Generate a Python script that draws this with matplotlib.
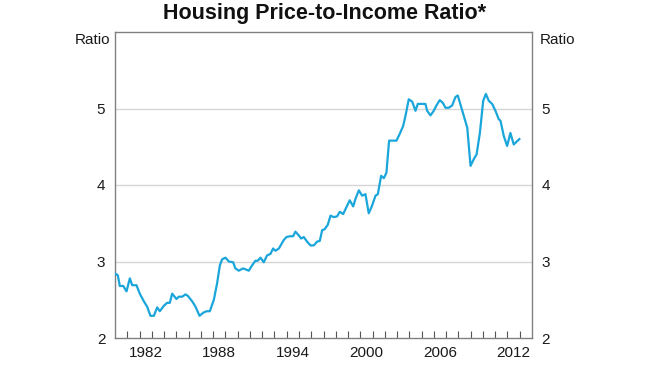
import matplotlib
matplotlib.use("Agg")
import matplotlib.pyplot as plt

plt.rcParams['font.family'] = ['Liberation Sans', 'DejaVu Sans']

# Data (decimal year, ratio)
years = [1980.04, 1980.23, 1980.39, 1980.67, 1980.94, 1981.21, 1981.40, 1981.75,
         1982.02, 1982.35, 1982.62, 1982.89, 1983.17, 1983.44, 1983.65, 1983.98,
         1984.25, 1984.47, 1984.66, 1985.01, 1985.20, 1985.48, 1985.75, 1985.94,
         1986.29, 1986.56, 1986.89, 1987.19, 1987.46, 1987.73, 1988.06, 1988.33,
         1988.55, 1988.74, 1989.01, 1989.28, 1989.63, 1989.82, 1990.09, 1990.45,
         1990.77, 1990.91, 1991.18, 1991.45, 1991.64, 1991.86, 1992.13, 1992.40,
         1992.68, 1992.89, 1993.08, 1993.36, 1993.76, 1993.98, 1994.25, 1994.52,
         1994.71, 1994.99, 1995.18, 1995.39, 1995.66, 1995.94, 1996.21, 1996.48,
         1996.70, 1996.89, 1997.08, 1997.35, 1997.57, 1997.84, 1998.11, 1998.33,
         1998.60, 1998.87, 1999.14, 1999.42, 1999.61, 1999.88, 2000.15, 2000.42,
         2000.69, 2000.96, 2001.24, 2001.43, 2001.70, 2001.92, 2002.13, 2002.35,
         2002.73, 2002.95, 2003.22, 2003.49, 2003.68, 2003.95, 2004.23, 2004.50,
         2004.69, 2005.04, 2005.31, 2005.45, 2005.72, 2005.99, 2006.21, 2006.48,
         2006.75, 2006.94, 2007.22, 2007.49, 2007.76, 2007.95, 2008.17, 2008.44,
         2008.72, 2008.99, 2009.26, 2009.48, 2009.75, 2010.02, 2010.24, 2010.48,
         2010.75, 2011.02, 2011.29, 2011.43, 2011.70, 2011.97, 2012.24, 2012.51,
         2012.97]
ratio = [2.84, 2.82, 2.68, 2.68, 2.61, 2.78, 2.69, 2.69,
         2.58, 2.48, 2.41, 2.29, 2.29, 2.40, 2.35, 2.42,
         2.46, 2.46, 2.58, 2.51, 2.54, 2.54, 2.57, 2.55,
         2.48, 2.41, 2.29, 2.33, 2.35, 2.35, 2.50, 2.72,
         2.95, 3.03, 3.05, 3.00, 2.99, 2.91, 2.88, 2.91,
         2.89, 2.88, 2.95, 3.01, 3.01, 3.05, 2.99, 3.08,
         3.10, 3.17, 3.14, 3.17, 3.28, 3.32, 3.33, 3.33,
         3.39, 3.34, 3.30, 3.32, 3.26, 3.21, 3.21, 3.26,
         3.27, 3.41, 3.42, 3.48, 3.60, 3.58, 3.59, 3.65,
         3.62, 3.71, 3.80, 3.72, 3.82, 3.93, 3.86, 3.88,
         3.63, 3.73, 3.86, 3.88, 4.12, 4.09, 4.16, 4.58,
         4.58, 4.58, 4.67, 4.77, 4.90, 5.12, 5.09, 4.97,
         5.06, 5.06, 5.06, 4.97, 4.91, 4.97, 5.04, 5.11,
         5.07, 5.01, 5.01, 5.04, 5.15, 5.17, 5.05, 4.90,
         4.75, 4.25, 4.34, 4.40, 4.68, 5.10, 5.19, 5.10,
         5.06, 4.97, 4.86, 4.84, 4.64, 4.51, 4.68, 4.53,
         4.60]

x_label_years = [1982, 1988, 1994, 2000, 2006, 2012]
y_ticks = [2, 3, 4, 5]
title = "Housing Price-to-Income Ratio*"
unit = "Ratio"

line_color = "#1aa6da"
grid_color = "#d6d6d6"
spine_color = "#808080"

fig = plt.figure(figsize=(6.5, 3.66), dpi=100)
ax = fig.add_axes([115 / 650, 1 - 338 / 366, 417 / 650, 306 / 366])

ax.plot(years, ratio, color=line_color, lw=1.6, zorder=3)

ax.set_xlim(1980, 2014)
ax.set_ylim(2, 6)

# horizontal gridlines
for yv in y_ticks[1:]:
    ax.axhline(yv, color=grid_color, lw=1.0, zorder=1)

for s in ax.spines.values():
    s.set_color(spine_color)
    s.set_linewidth(1.0)

# year boundary ticks
ax.set_xticks(list(range(1981, 2014)))
ax.tick_params(axis='x', which='major', direction='in', length=5, width=0.8,
               color='#555555', labelbottom=False)
# labels centred within each year
ax.set_xticks([yr + 0.5 for yr in x_label_years], minor=True)
ax.set_xticklabels([str(yr) for yr in x_label_years], minor=True)
ax.tick_params(axis='x', which='minor', length=0, pad=6, labelsize=11,
               labelcolor='#1a1a1a')

ax.set_yticks(y_ticks)
ax.set_yticklabels([str(v) for v in y_ticks])
ax.tick_params(axis='y', length=0, labelsize=11, labelleft=True,
               labelright=True, left=False, right=False, pad=7,
               labelcolor='#1a1a1a')

ax.text(-0.012, 0.975, unit, transform=ax.transAxes, ha='right', va='center',
        fontsize=11, color='#1a1a1a')
ax.text(1.018, 0.975, unit, transform=ax.transAxes, ha='left', va='center',
        fontsize=11, color='#1a1a1a')

fig.text(0.5, 1 - 14 / 366, title, ha='center', va='center', fontsize=15.5,
         fontweight='bold', color='#111111')

fig.savefig("out.png", dpi=100, facecolor='white')
